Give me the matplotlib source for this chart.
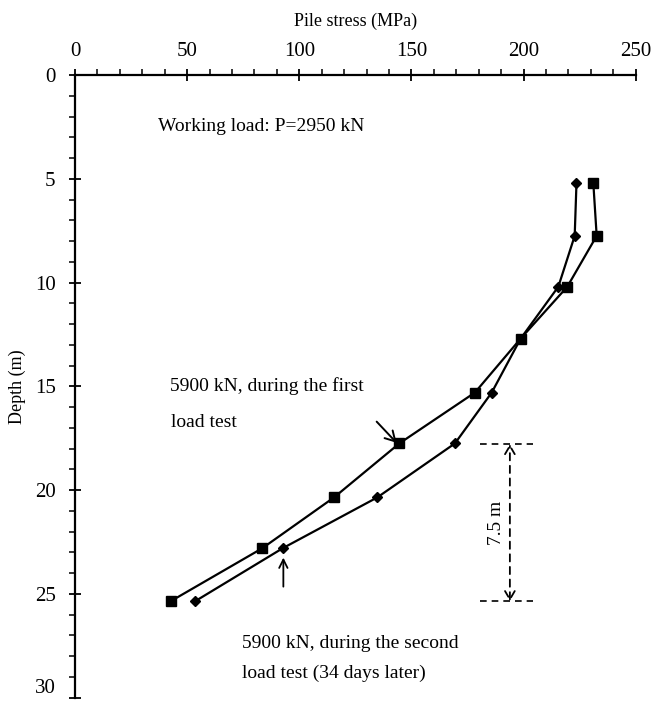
import matplotlib
matplotlib.use("Agg")
import matplotlib.pyplot as plt
from matplotlib.ticker import MultipleLocator

# ---- data ----
depth = [5.2, 7.75, 10.2, 12.7, 15.3, 17.75, 20.35, 22.8, 25.35]
stress_first = [231.1, 232.6, 219.5, 198.7, 178.3, 144.6, 115.5, 83.5, 42.7]
stress_second = [223.6, 222.8, 215.5, 198.7, 185.8, 169.4, 134.8, 92.6, 53.6]
x_ticks = [0, 50, 100, 150, 200, 250]
y_ticks = [0, 5, 10, 15, 20, 25, 30]

plt.rcParams['font.family'] = ['Liberation Serif', 'DejaVu Serif']

fig = plt.figure(figsize=(6.68, 7.08), dpi=100)
ax = fig.add_axes([75/668, 1-697.7/708, (635.7-75)/668, (697.7-75)/708])

ax.plot(stress_first, depth, color='black', lw=1.6, marker='s', ms=7, zorder=3)
ax.plot(stress_second, depth, color='black', lw=1.6, marker='D', ms=5, zorder=3)

ax.set_xlim(0, 250)
ax.set_ylim(30, 0)
ax.xaxis.tick_top()
ax.xaxis.set_label_position('top')
ax.set_xticks(x_ticks)
ax.set_yticks(y_ticks)
ax.xaxis.set_minor_locator(MultipleLocator(10))
ax.yaxis.set_minor_locator(MultipleLocator(1))
for s in ['right', 'bottom']:
    ax.spines[s].set_visible(False)
for s in ['left', 'top']:
    ax.spines[s].set_linewidth(1.6)
ax.tick_params(which='major', direction='inout', length=8, width=1.3, labelsize=15, pad=6)
ax.tick_params(which='minor', direction='out', length=4, width=1.1)
ax.tick_params(axis='y', which='major', pad=10)
ax.set_xlabel('Pile stress (MPa)', fontsize=13, labelpad=12)
ax.set_ylabel('Depth (m)', fontsize=13, labelpad=6)
# keep the bottom "30" label inside the canvas
ax.get_yticklabels()[-1].set_verticalalignment('bottom')

# ---- annotations ----
ax.text(37.1, 2.49, 'Working load: P=2950 kN', fontsize=14, va='center', ha='left')
ax.text(42.5, 15.0, '5900 kN, during the first', fontsize=14, va='center', ha='left')
ax.text(43.0, 16.75, 'load test', fontsize=14, va='center', ha='left')
ax.text(74.3, 27.4, '5900 kN, during the second', fontsize=14, va='center', ha='left')
ax.text(74.3, 28.85, 'load test (34 days later)', fontsize=14, va='center', ha='left')

ax.annotate('', xy=(143.4, 17.72), xytext=(134.5, 16.7),
            arrowprops=dict(arrowstyle='->,head_length=0.7,head_width=0.4', lw=1.4, color='black', shrinkA=0, shrinkB=0))
ax.annotate('', xy=(92.9, 23.25), xytext=(92.9, 24.65),
            arrowprops=dict(arrowstyle='->,head_length=0.6,head_width=0.3', lw=1.3, color='black', shrinkA=0, shrinkB=0))

ax.plot([180.6, 204.3], [17.78, 17.78], color='black', ls='--', lw=1.2, dashes=(4, 3))
ax.plot([180.6, 204.3], [25.35, 25.35], color='black', ls='--', lw=1.2, dashes=(4, 3))
ax.annotate('', xy=(193.9, 17.78), xytext=(193.9, 25.35),
            arrowprops=dict(arrowstyle='<->,head_length=0.6,head_width=0.35', lw=1.3, color='black',
                            ls=(0, (4, 3)), shrinkA=0, shrinkB=0))
ax.text(188.1, 21.6, '7.5 m', fontsize=14, rotation=90, va='center', ha='center')

fig.savefig('out.png', dpi=100)
